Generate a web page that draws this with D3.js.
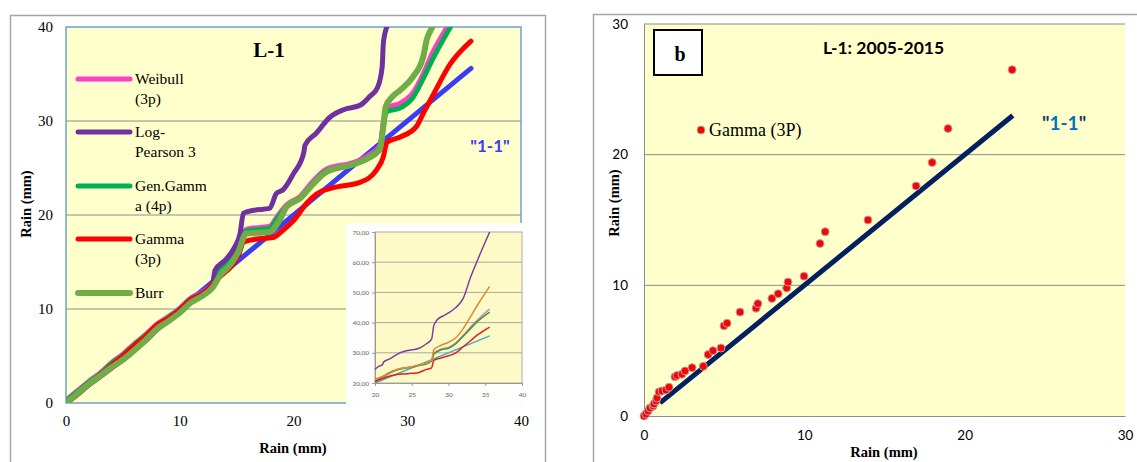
<!DOCTYPE html>
<html>
<head>
<meta charset="utf-8">
<script src="https://cdn.jsdelivr.net/npm/d3@7"></script>
<style>
  body { margin: 0; background: #fff; }
  svg { display: block; }
</style>
</head>
<body>
<div id="chart"></div>
<script>
// ---- left panel: quantile curves (x = observed, y = fitted) ----
const oneToOne = [[0, 0], [35.6, 35.6]];
const weibull = [[0,0.3],[1,1.3],[2,2.3],[3,3.2],[4,4.3],[5,5.2],[6,6.3],[7,7.3],[8,8.4],[9,9.2],[10,10.1],[11,11.2],[12,11.8],[12.9,12.8],[13.2,14.0],[14,15.0],[14.8,16.5],[15.4,17.8],[15.9,18.5],[17.9,18.8],[18.6,19.9],[19.4,21.1],[20.6,22.0],[21.5,23.3],[22.9,24.9],[25.3,25.6],[26.5,26.3],[27.6,27.4],[27.9,29.9],[28.2,31.4],[29.4,31.9],[30.5,33.0],[31.4,35.0],[32.2,37.2],[33.5,40],[35.6,44.5]];
const logPearson = [[0,0],[1,0.9],[2,1.9],[3,2.8],[4,3.7],[5,4.6],[6,5.6],[7,6.6],[8,7.8],[9,8.8],[10,9.9],[11,11.0],[12,11.7],[12.9,12.8],[13.1,14.1],[14,15.2],[14.8,16.5],[15.3,18.0],[15.6,20.2],[16.5,20.5],[17.9,20.7],[18.5,22.3],[19.1,22.7],[20.0,24.4],[20.9,26.6],[21.0,27.4],[22.0,28.7],[23.2,30.4],[24.4,31.2],[25.9,31.7],[26.7,32.6],[27.4,33.6],[27.8,35.8],[27.9,38.3],[28.2,40],[29.5,42.5],[35.6,70]];
const genGamma = [[0,0.2],[1,1.2],[2,2.2],[3,3.1],[4,4.2],[5,5.1],[6,6.2],[7,7.2],[8,8.3],[9,9.1],[10,10.0],[11,11.1],[12,11.7],[12.9,12.7],[13.2,13.8],[14,14.9],[14.8,16.3],[15.4,17.6],[15.9,18.3],[17.9,18.6],[18.6,19.7],[19.4,20.9],[20.6,21.8],[21.5,23.1],[22.9,24.7],[25.3,25.4],[26.5,26.1],[27.6,27.2],[27.9,29.6],[28.2,31.0],[29.4,31.4],[30.5,32.5],[31.4,34.5],[32.2,36.5],[33.8,40],[35.6,43.5]];
const gamma3 = [[0,0],[1,0.9],[2,2.0],[3,3.0],[4,4.0],[5,5.0],[6,6.1],[7,7.1],[8,8.3],[9,9.0],[10,9.9],[11,11.0],[12,11.6],[12.9,12.6],[13.5,13.4],[14.5,14.5],[15.2,15.8],[15.6,17.1],[16.5,17.4],[18.2,17.6],[19.1,18.4],[20.0,19.4],[21.2,21.3],[22.0,22.2],[23.5,22.9],[25.9,23.5],[27.3,24.8],[27.9,26.2],[28.2,27.7],[29.4,28.3],[30.8,29.4],[31.4,30.8],[32.2,32.6],[33.8,36.1],[35.6,38.5]];
const burr = [[0,0],[1,1],[2,2],[3,2.9],[4,3.8],[5,4.6],[6,5.6],[7,6.7],[8,7.9],[9,8.7],[10,9.6],[11,10.7],[12,11.4],[12.9,12.3],[13.5,13.5],[14.5,14.8],[15.2,16.2],[15.8,18.0],[17.9,18.2],[18.8,19.5],[19.4,20.9],[20.6,21.8],[21.5,23.0],[22.9,24.6],[25.3,25.4],[26.5,26.0],[27.6,27.0],[27.9,29.4],[28.1,31.5],[28.7,32.6],[29.4,33.3],[30.5,34.7],[31.4,36.8],[31.7,38.6],[32.2,40],[35.6,52]];

const legendNames = [["Weibull", "(3p)"], ["Log-", "Pearson 3"], ["Gen.Gamm", "a (4p)"], ["Gamma", "(3p)"], ["Burr"]];
const leftTicks = [0, 10, 20, 30, 40];

// ---- inset (zoom of upper tail, 20-40) ----
const insetPurple = [[20,24.5],[20.5,25.5],[21,26],[21.2,27],[22,28],[23,29.5],[24,30.5],[25,31],[26,31.5],[27,33],[27.7,34.5],[28,39],[28.5,41],[29.5,42.5],[30.5,44],[31,45],[32,48],[33,55],[34,61],[35.6,70]];
const insetOrange = [[20,21],[21,22],[22,23.5],[23,24.5],[24,25],[25,25.3],[26,26],[27,26.5],[27.7,27.5],[28,31],[29,32.5],[30,33.5],[31,35],[32,38],[33,42],[34,46],[35.6,52]];
const insetGreen = [[20,21],[21,22],[22,23.3],[23,24.3],[24,24.9],[25,25.2],[26,25.8],[27,26.3],[27.7,27.3],[28,29.5],[29,31],[30,31.5],[31,33],[32,35.5],[33,38],[34,40.5],[35.6,43.5]];
const insetPink = [[20,21.2],[21,22.2],[22,23.5],[23,24.5],[24,25],[25,25.4],[26,26],[27,26.5],[27.7,27.5],[28,29.8],[29,31.2],[30,31.8],[31,33.3],[32,35.8],[33,38.5],[34,41],[35.6,44.5]];
const insetRed = [[20,20.5],[21,21.5],[22,22.3],[23,22.8],[24,23],[25,23.2],[26,23.5],[27,24.5],[27.7,25],[28,27.5],[29,28.3],[30,29],[31,30],[32,32],[33,34],[34,36],[35.6,38.5]];
const insetCyan = [[20,20],[35.6,35.6]];
const insetYTicks = [20, 30, 40, 50, 60, 70];
const insetXTicks = [20, 25, 30, 35, 40];

// ---- right panel: Gamma (3P) points ----
const obsRain = [0,0.12,0.25,0.37,0.56,0.62,0.75,0.81,0.94,1.12,1.37,1.56,1.93,2.06,2.37,2.56,3.0,3.7,4.0,4.3,4.8,4.99,5.18,5.99,6.99,7.1,7.98,8.37,8.9,8.98,9.98,10.98,11.3,13.97,16.97,17.97,18.96,22.96];
const gammaRain = [0,0.15,0.38,0.61,0.77,0.92,1.15,1.38,1.84,1.91,1.99,2.2,3.0,3.1,3.2,3.45,3.7,3.8,4.7,5.0,5.2,6.9,7.1,7.95,8.25,8.6,9.0,9.35,9.8,10.25,10.7,13.2,14.1,15.0,17.6,19.4,22.0,26.5];
const rightLine = [[1, 1], [23, 23]];
const rightTicks = [0, 10, 20, 30];

const colors = {
  oneToOne: '#3c3cf5',
  weibull: '#ff3fc8',
  logPearson: '#7030a0',
  genGamma: '#00b050',
  gamma: '#ff0000',
  burr: '#70ad47'
};

const svg = d3.select('#chart').append('svg')
    .attr('width', 1137)
    .attr('height', 462);

const serif = 'Liberation Serif, Times New Roman, serif';
const sans = 'Lato, Liberation Sans, sans-serif';

// ================= LEFT PANEL =================
svg.append('rect')
    .attr('x', 10.5).attr('y', 15.5)
    .attr('width', 535).attr('height', 470)
    .attr('fill', '#fff')
    .attr('stroke', '#a6a6a6').attr('stroke-width', 1.5);

const xL = d3.scaleLinear().domain([0, 40]).range([66, 521]);
const yL = d3.scaleLinear().domain([0, 40]).range([403, 27]);

svg.append('clipPath').attr('id', 'clipL')
  .append('rect')
    .attr('x', xL(0)).attr('y', yL(40))
    .attr('width', xL(40) - xL(0)).attr('height', yL(0) - yL(40));

svg.append('rect')
    .attr('x', xL(0)).attr('y', yL(40))
    .attr('width', xL(40) - xL(0)).attr('height', yL(0) - yL(40))
    .attr('fill', '#ffffcc');

svg.append('g')
  .selectAll('line')
  .data([10, 20, 30])
  .join('line')
    .attr('x1', xL(0)).attr('x2', xL(40))
    .attr('y1', d => yL(d)).attr('y2', d => yL(d))
    .attr('stroke', '#8c8c8c').attr('stroke-width', 1);

svg.append('rect')
    .attr('x', xL(0)).attr('y', yL(40))
    .attr('width', xL(40) - xL(0)).attr('height', yL(0) - yL(40))
    .attr('fill', 'none')
    .attr('stroke', '#6f9fd8').attr('stroke-width', 1.5);

svg.append('g')
    .attr('transform', `translate(${xL(0)},0)`)
    .call(d3.axisLeft(yL).tickValues(leftTicks).tickSize(0).tickPadding(13))
    .call(g => g.select('.domain').remove())
    .call(g => g.selectAll('text').attr('font-family', serif).attr('font-size', 15).attr('fill', '#000'));

svg.append('g')
    .attr('transform', `translate(0,${yL(0)})`)
    .call(d3.axisBottom(xL).tickValues(leftTicks).tickSize(0).tickPadding(12))
    .call(g => g.select('.domain').remove())
    .call(g => g.selectAll('text').attr('font-family', serif).attr('font-size', 15).attr('fill', '#000'));

const lineL = d3.line()
    .x(d => xL(d[0]))
    .y(d => yL(d[1]))
    .curve(d3.curveMonotoneX);

const leftSeries = [
  {data: oneToOne, color: colors.oneToOne, w: 5},
  {data: weibull, color: colors.weibull, w: 5},
  {data: genGamma, color: colors.genGamma, w: 5},
  {data: logPearson, color: colors.logPearson, w: 5},
  {data: gamma3, color: colors.gamma, w: 5},
  {data: burr, color: colors.burr, w: 6}
];

svg.append('g')
    .attr('clip-path', 'url(#clipL)')
  .selectAll('path')
  .data(leftSeries)
  .join('path')
    .attr('d', d => lineL(d.data))
    .attr('fill', 'none')
    .attr('stroke', d => d.color)
    .attr('stroke-width', d => d.w)
    .attr('stroke-linecap', 'round')
    .attr('stroke-linejoin', 'round');

svg.append('text')
    .attr('x', 269).attr('y', 57)
    .attr('text-anchor', 'middle')
    .attr('font-family', serif).attr('font-weight', 'bold').attr('font-size', 21)
    .text('L-1');

svg.append('text')
    .attr('x', 490).attr('y', 152)
    .attr('text-anchor', 'middle')
    .attr('font-family', sans).attr('font-weight', 'bold').attr('font-size', 17)
    .attr('fill', colors.oneToOne)
    .text('"1-1"');

// legend
const legendColors = [colors.weibull, colors.logPearson, colors.genGamma, colors.gamma, colors.burr];
const legendY = [79, 132, 186, 239, 293];
const legend = svg.append('g')
  .selectAll('g')
  .data(legendNames)
  .join('g')
    .attr('transform', (d, i) => `translate(0,${legendY[i]})`);

legend.append('line')
    .attr('x1', 78).attr('x2', 130)
    .attr('stroke', (d, i) => legendColors[i])
    .attr('stroke-width', (d, i) => i === 4 ? 6 : 5)
    .attr('stroke-linecap', 'round');

legend.append('text')
    .attr('x', 135)
    .attr('font-family', serif).attr('font-size', 15.5)
  .selectAll('tspan')
  .data(d => d)
  .join('tspan')
    .attr('x', 135)
    .attr('y', (d, i) => 5 + i * 20)
    .text(d => d);

svg.append('text')
    .attr('transform', 'translate(31,204) rotate(-90)')
    .attr('text-anchor', 'middle')
    .attr('font-family', serif).attr('font-weight', 'bold').attr('font-size', 14.5)
    .text('Rain (mm)');

svg.append('text')
    .attr('x', 293).attr('y', 453)
    .attr('text-anchor', 'middle')
    .attr('font-family', serif).attr('font-weight', 'bold').attr('font-size', 14.5)
    .text('Rain  (mm)');

// inset
const inset = svg.append('g');
inset.append('rect')
    .attr('x', 346).attr('y', 223)
    .attr('width', 177).attr('height', 184)
    .attr('fill', '#fdfdfb');

const xI = d3.scaleLinear().domain([20, 40]).range([375, 522]);
const yI = d3.scaleLinear().domain([20, 70]).range([383, 232]);

inset.append('rect')
    .attr('x', xI(20)).attr('y', yI(70))
    .attr('width', xI(40) - xI(20)).attr('height', yI(20) - yI(70))
    .attr('fill', '#fdfac8')
    .attr('stroke', '#b4a9a9').attr('stroke-width', 1);

inset.append('g')
  .selectAll('line')
  .data(insetYTicks.slice(1, -1))
  .join('line')
    .attr('x1', xI(20)).attr('x2', xI(40))
    .attr('y1', d => yI(d)).attr('y2', d => yI(d))
    .attr('stroke', '#a8a8a0').attr('stroke-width', 1);

inset.append('g')
    .attr('transform', `translate(${xI(20)},0)`)
    .call(d3.axisLeft(yI).tickValues(insetYTicks).tickSize(3).tickPadding(3)
      .tickFormat(d => d3.format('.2f')(d).replace('.', ',')))
    .call(g => g.select('.domain').attr('stroke', '#999'))
    .call(g => g.selectAll('line').attr('stroke', '#999'))
    .call(g => g.selectAll('text').attr('font-family', sans).attr('font-size', 6.5).attr('fill', '#666'));

inset.append('g')
    .attr('transform', `translate(0,${yI(20)})`)
    .call(d3.axisBottom(xI).tickValues(insetXTicks).tickSize(3).tickPadding(6))
    .call(g => g.select('.domain').attr('stroke', '#999'))
    .call(g => g.selectAll('line').attr('stroke', '#999'))
    .call(g => g.selectAll('text').attr('font-family', sans).attr('font-size', 6.5).attr('fill', '#666'));

const lineI = d3.line()
    .x(d => xI(d[0]))
    .y(d => yI(d[1]))
    .curve(d3.curveMonotoneX);

const insetSeries = [
  {data: insetCyan, color: '#4bacc6'},
  {data: insetPink, color: '#d97ab5'},
  {data: insetGreen, color: '#3a9a3a'},
  {data: insetOrange, color: '#e08a2c'},
  {data: insetRed, color: '#e02020'},
  {data: insetPurple, color: '#7b3fa0'}
];

inset.append('g')
  .selectAll('path')
  .data(insetSeries)
  .join('path')
    .attr('d', d => lineI(d.data))
    .attr('fill', 'none')
    .attr('stroke', d => d.color)
    .attr('stroke-width', 1.5);

// ================= RIGHT PANEL =================
svg.append('rect')
    .attr('x', 593.5).attr('y', 14.5)
    .attr('width', 600).attr('height', 470)
    .attr('fill', '#fff')
    .attr('stroke', '#a6a6a6').attr('stroke-width', 1.5);

const xR = d3.scaleLinear().domain([0, 30]).range([644, 1125]);
const yR = d3.scaleLinear().domain([0, 30]).range([416, 24]);

svg.append('rect')
    .attr('x', xR(0)).attr('y', yR(30))
    .attr('width', xR(30) - xR(0)).attr('height', yR(0) - yR(30))
    .attr('fill', '#ffffcc');

svg.append('g')
  .selectAll('line')
  .data([10, 20, 30])
  .join('line')
    .attr('x1', xR(0)).attr('x2', xR(30))
    .attr('y1', d => yR(d)).attr('y2', d => yR(d))
    .attr('stroke', '#8c8c8c').attr('stroke-width', 1);

svg.append('g')
    .attr('transform', `translate(${xR(0)},0)`)
    .call(d3.axisLeft(yR).tickValues(rightTicks).tickSize(0).tickPadding(16))
    .call(g => g.select('.domain').attr('stroke', '#8c8c8c'))
    .call(g => g.selectAll('text').attr('font-family', sans).attr('font-size', 13.5).attr('fill', '#000'));

svg.append('g')
    .attr('transform', `translate(0,${yR(0)})`)
    .call(d3.axisBottom(xR).tickValues(rightTicks).tickSize(0).tickPadding(14))
    .call(g => g.select('.domain').attr('stroke', '#8c8c8c'))
    .call(g => g.selectAll('text').attr('font-family', sans).attr('font-size', 13.5).attr('fill', '#000'));

svg.append('path')
    .attr('d', d3.line().x(d => xR(d[0])).y(d => yR(d[1]))(rightLine))
    .attr('stroke', '#002060')
    .attr('stroke-width', 5)
    .attr('fill', 'none');

svg.append('g')
  .selectAll('circle')
  .data(d3.zip(obsRain, gammaRain))
  .join('circle')
    .attr('cx', d => xR(d[0]))
    .attr('cy', d => yR(d[1]))
    .attr('r', 4)
    .attr('fill', '#ff0000')
    .attr('stroke', '#b0a8a8').attr('stroke-width', 1);

// "b" box
svg.append('rect')
    .attr('x', 654).attr('y', 30)
    .attr('width', 48).attr('height', 45)
    .attr('fill', '#fff')
    .attr('stroke', '#000').attr('stroke-width', 2);
svg.append('text')
    .attr('x', 680).attr('y', 61)
    .attr('text-anchor', 'middle')
    .attr('font-family', serif).attr('font-weight', 'bold').attr('font-size', 20)
    .text('b');

svg.append('text')
    .attr('x', 823).attr('y', 54)
    .attr('font-family', sans).attr('font-weight', 'bold').attr('font-size', 17.5)
    .text('L-1: 2005-2015');

// legend entry
svg.append('circle')
    .attr('cx', 701).attr('cy', 130).attr('r', 4)
    .attr('fill', '#ff0000')
    .attr('stroke', '#b0a8a8').attr('stroke-width', 1);
svg.append('text')
    .attr('x', 709).attr('y', 136)
    .attr('font-family', serif).attr('font-size', 18)
    .text('Gamma (3P)');

const lbl = svg.append('text')
    .attr('x', 1042).attr('y', 130)
    .attr('font-family', sans).attr('font-weight', 'bold').attr('font-size', 19);
lbl.append('tspan').attr('fill', '#1f3864').text('"');
lbl.append('tspan').attr('fill', '#0070c0').text('1-1');
lbl.append('tspan').attr('fill', '#1f3864').text('"');

svg.append('text')
    .attr('transform', 'translate(619,203) rotate(-90)')
    .attr('text-anchor', 'middle')
    .attr('font-family', serif).attr('font-weight', 'bold').attr('font-size', 14.5)
    .text('Rain  (mm)');

svg.append('text')
    .attr('x', 884).attr('y', 457)
    .attr('text-anchor', 'middle')
    .attr('font-family', serif).attr('font-weight', 'bold').attr('font-size', 14.5)
    .text('Rain (mm)');
</script>
</body>
</html>
